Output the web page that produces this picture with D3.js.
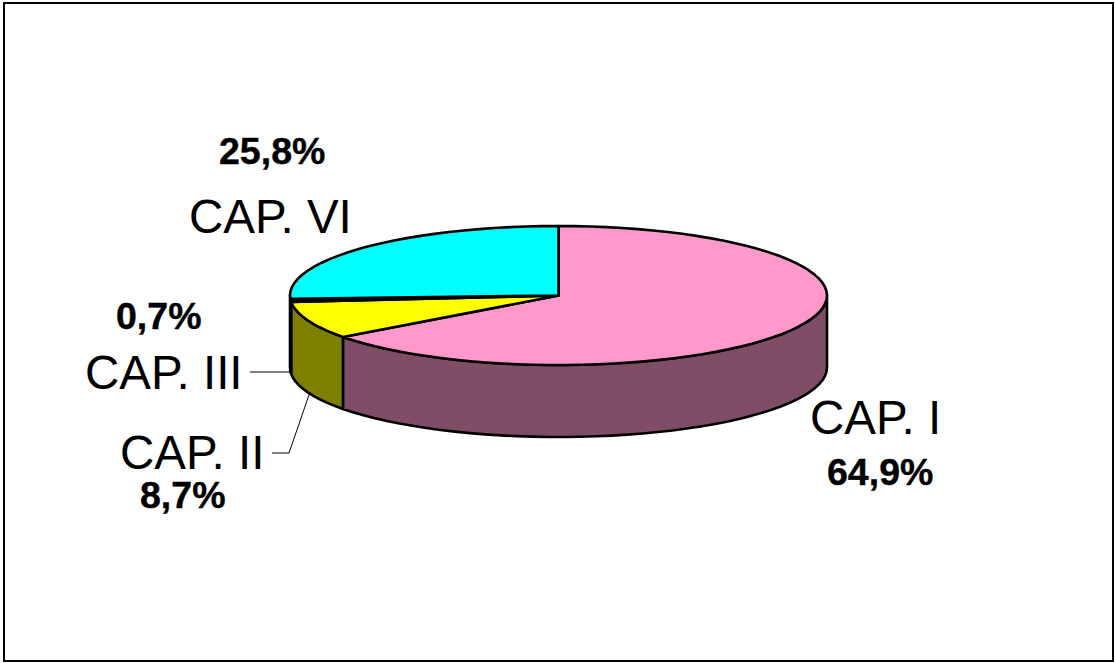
<!DOCTYPE html>
<html>
<head>
<meta charset="utf-8">
<script src="https://cdn.jsdelivr.net/npm/d3@7"></script>
<style>
  html, body { margin: 0; padding: 0; background: #fff; }
  svg { display: block; }
  text { font-family: "Liberation Sans", Arial, sans-serif; fill: #000; }
  .name { font-size: 47.5px; }
  .pct { font-size: 37.5px; font-weight: bold; stroke: #000; stroke-width: 0.4px; }
</style>
</head>
<body>
<div id="chart"></div>
<script>
'use strict';

const categories = ['CAP. I', 'CAP. II', 'CAP. III', 'CAP. VI'];
const shares = [64.9, 8.7, 0.7, 25.8];
const shareLabels = ['64,9%', '8,7%', '0,7%', '25,8%'];
const topColors = ['#ff99cc', '#ffff00', '#000000', '#00ffff'];
const sideColors = ['#804d66', '#808000', '#000000', '#008080'];

const W = 1115, H = 663;
const PIE = { cx: 558.5, cy: 295.5, rx: 268.5, ry: 69.5, depth: 72 };

// label anchors, [name x, name baseline, pct x, pct baseline]
const LABEL_POS = [
  [810, 434, 827, 485],
  [120, 469, 140, 508],
  [85, 389, 116, 329],
  [189, 233, 219, 164],
];

const svg = d3.select('#chart').append('svg').attr('width', W).attr('height', H);

svg.append('rect')
  .attr('x', 4).attr('y', 3)
  .attr('width', 1109).attr('height', 658)
  .attr('fill', '#fff').attr('stroke', '#000').attr('stroke-width', 2);

const arcs = d3.pie().sort(null)(shares);

const px = a => PIE.cx + PIE.rx * Math.sin(a);
const py = a => PIE.cy - PIE.ry * Math.cos(a);

// the original outline is a coarse polygon, keep that look
function rimPoints(a0, a1) {
  const n = Math.max(1, Math.ceil((a1 - a0) / 0.06));
  return d3.range(n + 1).map(i => a0 + (a1 - a0) * i / n);
}

const line = d3.line();
const g = svg.append('g');

// outer wall, only the front half of the ellipse shows
const FRONT0 = Math.PI / 2, FRONT1 = Math.PI * 1.5;
arcs.forEach((d, i) => {
  const a0 = Math.max(d.startAngle, FRONT0);
  const a1 = Math.min(d.endAngle, FRONT1);
  if (a1 <= a0) return;
  const rim = rimPoints(a0, a1);
  const upper = rim.map(a => [px(a), py(a)]);
  const lower = rim.slice().reverse().map(a => [px(a), py(a) + PIE.depth]);
  g.append('path')
    .attr('d', line(upper.concat(lower)) + 'Z')
    .attr('fill', sideColors[i])
    .attr('stroke', '#000').attr('stroke-width', 2.6).attr('stroke-linejoin', 'round');
});

// top face
arcs.forEach((d, i) => {
  const rim = rimPoints(d.startAngle, d.endAngle).map(a => [px(a), py(a)]);
  g.append('path')
    .attr('d', line([[PIE.cx, PIE.cy]].concat(rim)) + 'Z')
    .attr('fill', topColors[i])
    .attr('stroke', '#000').attr('stroke-width', 2.6).attr('stroke-linejoin', 'round');
});

// leader lines
const leaders = [
  [[272, 453], [289, 453], [310, 392]],
  [[250, 372], [291, 372]],
];
leaders.forEach(pts => {
  svg.append('path').attr('d', line(pts))
    .attr('fill', 'none').attr('stroke', '#000').attr('stroke-width', 1);
});

categories.forEach((c, i) => {
  const p = LABEL_POS[i];
  svg.append('text').attr('class', 'name').attr('x', p[0]).attr('y', p[1]).text(c);
  svg.append('text').attr('class', 'pct').attr('x', p[2]).attr('y', p[3]).text(shareLabels[i]);
});
</script>
</body>
</html>
